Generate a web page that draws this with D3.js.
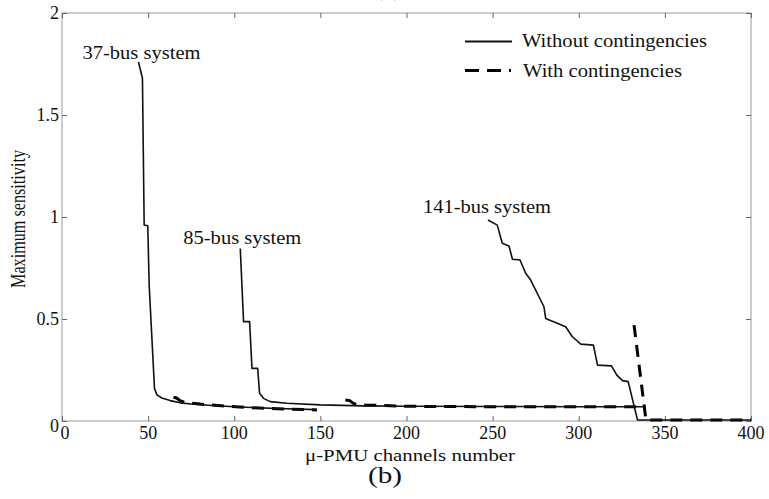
<!DOCTYPE html>
<html>
<head>
<meta charset="utf-8">
<script src="https://cdn.jsdelivr.net/npm/d3@7"></script>
<style>
  html, body { margin: 0; padding: 0; background: #fff; }
  svg { display: block; }
  text { font-family: "Liberation Serif", "Times New Roman", serif; fill: #111; }
</style>
</head>
<body>
<svg id="chart" width="769" height="499"></svg>
<script>
// ---------------- DATA ----------------
const xTicks = [0, 50, 100, 150, 200, 250, 300, 350, 400];
const yTicks = [0, 0.5, 1, 1.5, 2];
const yTickLabels = ["0", "0.5", "1", "1.5", "2"];

// [channels, max sensitivity]
const bus37Without = [[44.4,1.76],[46.7,1.68],[47.7,0.961],[49.8,0.957],[50.6,0.667],[53.7,0.160],[55.1,0.128],[58,0.113],[62.8,0.100],[68.6,0.089],[75,0.083],[85,0.077],[97.7,0.071],[110,0.066],[125,0.061],[148,0.056]];
const bus37With = [[64.7,0.116],[66.5,0.113],[68.5,0.100],[71,0.092],[80,0.083],[97.7,0.071],[110,0.065],[125,0.060],[148,0.054]];
const bus85Without = [[103.5,0.846],[105.4,0.487],[108.9,0.487],[110.3,0.258],[113.6,0.258],[114.7,0.136],[117,0.111],[120.9,0.095],[130.6,0.087],[150,0.079],[175,0.074],[200,0.072],[250,0.071],[300,0.070],[339,0.070]];
const bus85With = [[164.5,0.103],[167,0.100],[169.4,0.085],[176,0.079],[200,0.072],[250,0.070],[300,0.070],[338,0.070]];
const bus141Without = [[247.3,0.985],[252.7,0.960],[255.6,0.871],[259.5,0.858],[261.5,0.793],[265.9,0.789],[269.2,0.724],[272.1,0.691],[279.8,0.560],[280.8,0.503],[292.4,0.462],[296.3,0.413],[301.2,0.377],[308.5,0.372],[310.9,0.274],[319.0,0.270],[322.1,0.225],[325.4,0.198],[328.7,0.193],[334.1,0.005],[400,0.005]];
const bus141With = [[332.1,0.47],[339,0.005],[400,0.005]];

const systemLabels = [
  {text: "37-bus system", x: 44.4, y: 1.76},
  {text: "85-bus system", x: 103.5, y: 0.846},
  {text: "141-bus system", x: 247.3, y: 0.985}
];
const legendLabels = ["Without contingencies", "With contingencies"];
const xTitle = "\u03BC-PMU channels number";
const yTitle = "Maximum sensitivity";
const subLabel = "(b)";

// ---------------- LAYOUT ----------------
const svg = d3.select("#chart");
const L = 62, R = 751, T = 13, B = 421;
const x = d3.scaleLinear().domain([0, 400]).range([L, R]);
const y = d3.scaleLinear().domain([0, 2]).range([B, T]);

// faint clipped title of previous panel
svg.append("text").attr("x", 388).attr("y", -4).attr("text-anchor", "middle")
  .attr("font-size", 24).style("fill", "#aaa").text("(a)");

// frame
svg.append("rect").attr("x", L).attr("y", T).attr("width", R - L).attr("height", B - T)
  .attr("fill", "none").attr("stroke", "#999").attr("stroke-width", 1);

// axes with inward ticks
const tickColor = "#666";
const gB = svg.append("g").attr("transform", `translate(0,${B})`)
  .call(d3.axisBottom(x).tickValues(xTicks).tickSize(-5).tickPadding(0).tickFormat(""));
const gT = svg.append("g").attr("transform", `translate(0,${T})`)
  .call(d3.axisTop(x).tickValues(xTicks).tickSize(-5).tickFormat(""));
const gL = svg.append("g").attr("transform", `translate(${L},0)`)
  .call(d3.axisLeft(y).tickValues(yTicks).tickSize(-5).tickFormat(""));
const gR = svg.append("g").attr("transform", `translate(${R},0)`)
  .call(d3.axisRight(y).tickValues(yTicks).tickSize(-5).tickFormat(""));
[gB, gT, gL, gR].forEach(g => {
  g.select(".domain").remove();
  g.selectAll(".tick line").attr("stroke", tickColor);
});

// tick labels
svg.append("g").selectAll("text").data(xTicks).join("text")
  .attr("x", d => x(d) + (d === 0 ? 3 : 0)).attr("y", 439)
  .attr("text-anchor", "middle").attr("font-size", 18).text(d => d);
svg.append("g").selectAll("text").data(yTicks).join("text")
  .attr("x", 59).attr("y", d => y(d) + (d === 0 ? 5 : 0)).attr("dy", "0.33em")
  .attr("text-anchor", "end").attr("font-size", 18).text((d, i) => yTickLabels[i]);

// axis titles
svg.append("text").attr("x", 305).attr("y", 461).attr("font-size", 17)
  .attr("textLength", 210).attr("lengthAdjust", "spacingAndGlyphs").text(xTitle);
svg.append("text").attr("transform", "translate(25,288) rotate(-90)")
  .attr("font-size", 21).attr("textLength", 138).attr("lengthAdjust", "spacingAndGlyphs").text(yTitle);
svg.append("text").attr("x", 368).attr("y", 483).attr("font-size", 23)
  .attr("textLength", 34).attr("lengthAdjust", "spacingAndGlyphs").text(subLabel);

// lines
const line = d3.line().x(d => x(d[0])).y(d => y(d[1]));
const dashStyle = "12,8";
[bus37With, bus85With, bus141With].forEach(s => {
  svg.append("path").datum(s).attr("d", line).attr("fill", "none")
    .attr("stroke", "#000").attr("stroke-width", 3).attr("stroke-dasharray", dashStyle);
});
[bus37Without, bus85Without, bus141Without].forEach(s => {
  svg.append("path").datum(s).attr("d", line).attr("fill", "none")
    .attr("stroke", "#111").attr("stroke-width", 1.6).attr("stroke-linejoin", "round");
});

// system labels (placed just above-left of each curve's start)
const labelPos = [
  {dx: -56, dy: -3, w: 118},
  {dx: -57, dy: -4.5, w: 118},
  {dx: -65, dy: -7, w: 128}
];
svg.append("g").selectAll("text").data(systemLabels).join("text")
  .attr("x", (d, i) => x(d.x) + labelPos[i].dx)
  .attr("y", (d, i) => y(d.y) + labelPos[i].dy)
  .attr("font-size", 18)
  .attr("textLength", (d, i) => labelPos[i].w).attr("lengthAdjust", "spacingAndGlyphs")
  .text(d => d.text);

// legend
const leg = svg.append("g");
leg.append("line").attr("x1", 465).attr("x2", 512).attr("y1", 41.5).attr("y2", 41.5)
  .attr("stroke", "#111").attr("stroke-width", 1.8);
leg.append("line").attr("x1", 465).attr("x2", 511).attr("y1", 70.5).attr("y2", 70.5)
  .attr("stroke", "#000").attr("stroke-width", 3).attr("stroke-dasharray", "14,8");
leg.append("text").attr("x", 522).attr("y", 47).attr("font-size", 18)
  .attr("textLength", 185).attr("lengthAdjust", "spacingAndGlyphs").text(legendLabels[0]);
leg.append("text").attr("x", 523).attr("y", 76.5).attr("font-size", 18)
  .attr("textLength", 159).attr("lengthAdjust", "spacingAndGlyphs").text(legendLabels[1]);
</script>
</body>
</html>
